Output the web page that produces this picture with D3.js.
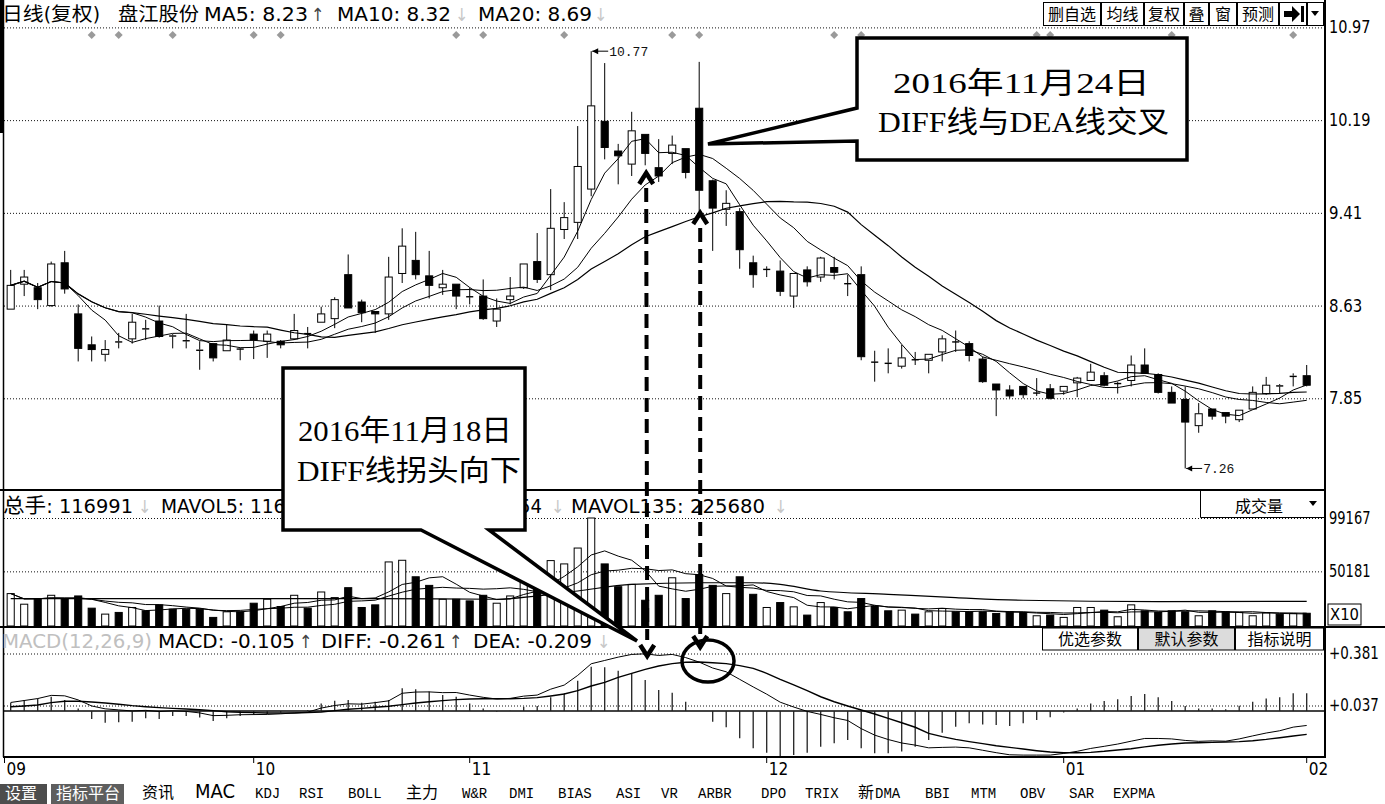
<!DOCTYPE html>
<html><head><meta charset="utf-8"><title>盘江股份 日线</title>
<script src="https://cdn.jsdelivr.net/npm/d3@7/dist/d3.min.js"></script>
<style>
html,body{margin:0;padding:0;background:#fff;overflow:hidden}
svg{display:block}
</style></head><body>
<svg id="chart" width="1385" height="804" xmlns="http://www.w3.org/2000/svg"></svg>
<script>
// ---------------- DATA ----------------
const opens = [8.60,8.81,8.78,8.63,8.99,8.56,8.30,8.22,8.33,8.35,
 8.44,8.50,8.38,8.34,8.26,8.31,8.25,8.27,8.39,8.33,
 8.33,8.35,8.40,8.49,8.52,8.89,8.66,8.58,8.56,8.90,
 9.01,8.88,8.78,8.81,8.71,8.71,8.50,8.68,8.78,9.00,
 8.89,9.27,9.33,9.61,10.18,9.93,9.82,10.07,9.79,9.91,
 9.95,10.29,9.68,9.44,9.42,8.99,8.94,8.92,8.71,8.93,
 8.87,8.95,8.82,8.89,8.16,8.15,8.12,8.18,8.17,8.24,
 8.33,8.31,8.18,7.97,7.92,7.95,7.90,7.93,7.91,7.98,
 8.00,8.04,7.98,8.00,8.13,8.05,7.90,7.84,7.62,7.76,
 7.73,7.67,7.76,7.89,7.96,8.03,8.04];
const highs = [8.93,8.93,8.82,9.00,9.09,8.64,8.37,8.34,8.40,8.56,
 8.51,8.63,8.39,8.56,8.33,8.31,8.47,8.27,8.42,8.42,
 8.34,8.56,8.45,8.62,8.70,9.06,8.68,8.58,9.04,9.28,
 9.25,9.09,8.93,8.81,8.78,8.85,8.69,8.87,8.98,9.24,
 9.61,9.50,10.14,10.77,10.67,9.99,10.26,10.07,10.03,10.06,
 9.95,10.68,9.69,9.60,9.45,9.05,8.96,9.01,8.90,8.96,
 9.04,9.04,8.89,8.96,8.25,8.27,8.30,8.24,8.22,8.38,
 8.42,8.33,8.20,7.97,7.96,7.95,8.02,7.97,7.95,8.03,
 8.14,8.07,7.99,8.21,8.27,8.06,7.95,7.95,7.81,7.76,
 7.73,7.75,7.95,8.03,7.97,8.06,8.13];
const lows = [8.60,8.71,8.60,8.62,8.73,8.16,8.16,8.16,8.27,8.31,
 8.34,8.36,8.27,8.27,8.09,8.16,8.25,8.17,8.18,8.19,
 8.27,8.34,8.27,8.49,8.44,8.61,8.49,8.40,8.51,8.82,
 8.85,8.69,8.72,8.60,8.64,8.51,8.45,8.64,8.77,8.82,
 8.76,9.19,9.19,9.55,9.86,9.65,9.72,9.81,9.67,9.82,
 9.70,9.41,9.09,9.30,8.94,8.78,8.87,8.71,8.61,8.79,
 8.83,8.85,8.71,8.17,7.99,8.06,8.10,8.13,8.06,8.16,
 8.24,8.16,7.98,7.70,7.85,7.85,7.87,7.84,7.88,7.86,
 8.00,7.95,7.89,7.95,8.06,7.89,7.81,7.26,7.56,7.67,
 7.64,7.65,7.76,7.88,7.89,7.95,7.95];
const closes = [8.80,8.87,8.68,8.98,8.77,8.27,8.26,8.26,8.32,8.49,
 8.43,8.37,8.37,8.33,8.25,8.19,8.34,8.27,8.34,8.39,
 8.30,8.42,8.40,8.56,8.68,8.61,8.57,8.56,8.87,9.13,
 8.89,8.80,8.81,8.71,8.70,8.52,8.60,8.71,8.98,8.85,
 9.28,9.37,9.80,10.31,9.96,9.89,10.10,9.91,9.72,9.98,
 9.75,9.60,9.45,9.49,9.10,8.89,8.94,8.75,8.90,8.83,
 9.03,8.91,8.82,8.20,8.16,8.15,8.19,8.18,8.22,8.35,
 8.33,8.21,7.99,7.92,7.87,7.88,7.90,7.85,7.95,8.02,
 8.07,7.96,7.98,8.13,8.06,7.90,7.81,7.65,7.72,7.70,
 7.70,7.75,7.90,7.96,7.95,8.04,7.96];
// volume in axis units (x10 hands)
const volumes = [29750,20016,25200,28204,25200,27590,16376,10918,12460,17000,
 13950,19410,15467,15467,15467,7900,13040,13040,20925,24565,
 17900,28204,16376,31230,26080,35190,17000,19410,58830,60350,
 45190,37300,24565,24565,23050,28204,20925,27590,44890,38210,
 60050,57010,71580,99167,57010,36090,38210,23650,28204,44290,
 25200,47310,37300,29750,45190,29110,17000,21530,17590,10008,
 21530,17000,13040,25200,17900,13950,14557,10918,13040,16073,
 13040,13040,13040,11525,13040,12434,9400,10008,7885,17000,
 17000,14557,8490,19410,13950,12434,13950,13040,9400,13950,
 13040,12434,9400,12000,10918,11500,11699];
// long volume average line, read at selected candles
const mavolLongIdx = [0,27,36,39,42,46,51,55,57,60,65,70,75,85,96];
const mavolLongVals = [25200,25200,24565,27590,32140,38210,39730,39730,38210,32140,29110,26080,23650,22434,22568];
const diffVals = [0.057,0.070,0.083,0.104,0.101,0.074,0.034,0.015,0.008,0.001,
 0.005,-0.003,0.002,-0.002,-0.012,-0.030,-0.028,-0.024,-0.023,-0.022,
 -0.018,-0.012,-0.007,0.020,0.037,0.048,0.046,0.056,0.068,0.118,
 0.126,0.127,0.122,0.123,0.106,0.091,0.080,0.084,0.099,0.106,
 0.145,0.172,0.236,0.313,0.335,0.357,0.375,0.379,0.368,0.375,
 0.354,0.324,0.285,0.260,0.210,0.160,0.112,0.059,0.027,-0.002,
 -0.022,-0.044,-0.062,-0.116,-0.159,-0.188,-0.211,-0.225,-0.243,-0.240,
 -0.238,-0.243,-0.259,-0.275,-0.289,-0.291,-0.291,-0.291,-0.280,-0.266,
 -0.247,-0.233,-0.218,-0.199,-0.181,-0.181,-0.184,-0.194,-0.200,-0.197,
 -0.199,-0.184,-0.164,-0.145,-0.130,-0.106,-0.095];
const deaVals = [0.029,0.034,0.040,0.056,0.065,0.065,0.060,0.054,0.045,0.036,
 0.029,0.023,0.018,0.014,0.009,0.003,-0.004,-0.008,-0.010,-0.013,
 -0.013,-0.013,-0.010,-0.006,0.003,0.012,0.018,0.025,0.032,0.043,
 0.054,0.062,0.069,0.076,0.080,0.082,0.082,0.082,0.084,0.089,
 0.100,0.113,0.135,0.166,0.190,0.223,0.250,0.276,0.298,0.314,
 0.323,0.325,0.320,0.314,0.301,0.283,0.250,0.210,0.173,0.135,
 0.095,0.062,0.034,0.007,-0.019,-0.048,-0.077,-0.107,-0.147,-0.169,
 -0.187,-0.202,-0.215,-0.229,-0.240,-0.251,-0.262,-0.271,-0.275,-0.275,
 -0.273,-0.266,-0.257,-0.249,-0.237,-0.226,-0.218,-0.211,-0.209,-0.207,
 -0.204,-0.202,-0.196,-0.187,-0.176,-0.165,-0.154];
const macdVals = [0.056,0.073,0.084,0.095,0.073,0.018,-0.052,-0.077,-0.074,-0.070,
 -0.048,-0.052,-0.032,-0.032,-0.043,-0.065,-0.048,-0.032,-0.026,-0.019,
 -0.010,0.001,0.007,0.051,0.069,0.073,0.056,0.062,0.073,0.151,
 0.144,0.129,0.107,0.095,0.051,0.018,-0.004,0.003,0.029,0.034,
 0.091,0.118,0.201,0.294,0.290,0.267,0.250,0.206,0.140,0.122,
 0.062,0.001,-0.070,-0.107,-0.180,-0.246,-0.275,-0.301,-0.290,-0.275,
 -0.235,-0.213,-0.191,-0.246,-0.279,-0.279,-0.268,-0.235,-0.191,-0.143,
 -0.103,-0.081,-0.088,-0.092,-0.099,-0.081,-0.059,-0.041,-0.010,0.018,
 0.051,0.067,0.078,0.100,0.113,0.091,0.067,0.034,0.018,0.018,
 0.012,0.036,0.062,0.084,0.091,0.118,0.118];
const priceTicks = [10.97,10.19,9.41,8.63,7.85];
const volTicks = [99167,50181];
const macdTicks = [0.381,0.037];
const monthLabels = ["09","10","11","12","01","02"];
const monthIdx = [0,18,34,56,78,96];
const infoMarkIdx = [6,8,12,18,20,33,35,41,49,51,61,63,76,77,86,95];
const highMark = {i:43, v:10.77, label:"10.77"};
const lowMark = {i:87, v:7.26, label:"7.26"};
const arrowAIdx = 47, arrowBIdx = 51;

// ---------------- FONTS ----------------
const SANS = "'DejaVu Sans Condensed','Noto Sans CJK SC',sans-serif";
const CJK = "'Noto Sans CJK SC',sans-serif";
const NARROW = "'Liberation Sans Narrow','DejaVu Sans Condensed',sans-serif";
const MONO = "'Liberation Mono','DejaVu Sans Mono',monospace";
const SERIF = "'Liberation Serif','Noto Sans CJK SC',serif";

const svg = d3.select('#chart');
const n = closes.length;
const LEFT = 3, RIGHT = 1325;

const x = d3.scaleBand().domain(d3.range(n)).range([3.95, 3.95 + 13.5 * n])
  .paddingInner(0.4).paddingOuter(0.2);
const bw = x.bandwidth();
const cx = i => x(i) + bw / 2;
const yP = d3.scaleLinear().domain([7.85, 10.97]).range([398.3, 27.4]);
const yV = d3.scaleLinear().domain([0, 99167]).range([626, 518]);
const yM = d3.scaleLinear().domain([0, 0.381]).range([711.1, 653.5]);

function addText(parent, px, py, s, o = {}) {
  const t = parent.append('text').attr('x', px).attr('y', py).text(s)
    .attr('font-family', o.ff || SANS).attr('font-size', o.fs || 20).attr('fill', o.fill || '#000');
  if (o.anchor) t.attr('text-anchor', o.anchor);
  if (o.len) t.attr('textLength', o.len).attr('lengthAdjust', 'spacingAndGlyphs');
  if (o.fw) t.attr('font-weight', o.fw);
  return t;
}
const isUp = i => closes[i] > opens[i] || (closes[i] === opens[i] && (i === 0 || closes[i] >= closes[i - 1]));
const movingAvg = (arr, p) => arr.map((_, i) => d3.mean(arr.slice(Math.max(0, i - p + 1), i + 1)));

// ---------------- GRIDLINES ----------------
function grid(scale, ticks) {
  svg.append('g').attr('transform', `translate(${RIGHT},0)`)
    .call(d3.axisLeft(scale).tickValues(ticks).tickSize(RIGHT - LEFT).tickFormat(''))
    .call(g => g.select('.domain').remove())
    .call(g => g.selectAll('line').attr('stroke', '#111').attr('stroke-dasharray', '1,2'));
}
grid(yP, priceTicks);
grid(yV, volTicks);
grid(yM, macdTicks);

// ---------------- CANDLES ----------------
const candles = d3.range(n).map(i => ({ i, o: opens[i], h: highs[i], l: lows[i], c: closes[i], up: isUp(i) }));
const cg = svg.append('g').attr('class', 'candles');
const cs = cg.selectAll('g').data(candles).join('g');
cs.append('line').attr('x1', d => cx(d.i)).attr('x2', d => cx(d.i))
  .attr('y1', d => yP(d.h)).attr('y2', d => yP(Math.max(d.o, d.c))).attr('stroke', '#000');
cs.append('line').attr('x1', d => cx(d.i)).attr('x2', d => cx(d.i))
  .attr('y1', d => yP(Math.min(d.o, d.c))).attr('y2', d => yP(d.l)).attr('stroke', '#000');
cs.append('rect')
  .attr('x', d => x(d.i) + 0.5).attr('width', bw - 1)
  .attr('y', d => yP(Math.max(d.o, d.c)))
  .attr('height', d => Math.max(1.4, yP(Math.min(d.o, d.c)) - yP(Math.max(d.o, d.c))))
  .attr('fill', d => (d.up && Math.abs(d.o - d.c) > 0.015) ? '#fff' : '#000')
  .attr('stroke', d => (Math.abs(d.o - d.c) > 0.015) ? '#000' : 'none')
  .attr('stroke-width', 1);

// MA lines
const ma5 = movingAvg(closes, 5), ma10 = movingAvg(closes, 10), ma20 = movingAvg(closes, 20);
const maLine = d3.line().x((d, i) => cx(i)).y(d => yP(d));
[[ma5, 1], [ma10, 1], [ma20, 1.2]].forEach(([arr, w]) => {
  svg.append('path').attr('d', maLine(arr)).attr('fill', 'none').attr('stroke', '#000').attr('stroke-width', w);
});

// ---------------- VOLUME ----------------
const vg = svg.append('g');
vg.selectAll('rect').data(volumes).join('rect')
  .attr('x', (d, i) => x(i) + 0.5).attr('width', bw - 1)
  .attr('y', d => yV(d)).attr('height', d => yV(0) - yV(d))
  .attr('fill', (d, i) => isUp(i) ? '#fff' : '#000').attr('stroke', '#000').attr('stroke-width', 1);
const vLine = d3.line().x((d, i) => cx(i)).y(d => yV(d));
svg.append('path').attr('d', vLine(movingAvg(volumes, 5))).attr('fill', 'none').attr('stroke', '#000').attr('stroke-width', 1);
svg.append('path').attr('d', vLine(movingAvg(volumes, 10))).attr('fill', 'none').attr('stroke', '#000').attr('stroke-width', 1);
svg.append('path').attr('d', d3.line().curve(d3.curveMonotoneX).x((d, k) => cx(mavolLongIdx[k])).y(d => yV(d))(mavolLongVals))
  .attr('fill', 'none').attr('stroke', '#000').attr('stroke-width', 1.2);

// ---------------- MACD ----------------
svg.append('line').attr('x1', LEFT).attr('x2', RIGHT).attr('y1', yM(0)).attr('y2', yM(0))
  .attr('stroke', '#444').attr('stroke-width', 2);
svg.append('g').selectAll('line').data(macdVals).join('line')
  .attr('x1', (d, i) => cx(i)).attr('x2', (d, i) => cx(i))
  .attr('y1', yM(0)).attr('y2', d => yM(d))
  .attr('stroke', '#222').attr('stroke-width', 1.3);
const mLine = d3.line().x((d, i) => cx(i)).y(d => yM(d));
svg.append('path').attr('d', mLine(diffVals)).attr('fill', 'none').attr('stroke', '#000').attr('stroke-width', 1);
svg.append('path').attr('d', mLine(deaVals)).attr('fill', 'none').attr('stroke', '#000').attr('stroke-width', 1.4);

// ---------------- FRAME ----------------
const fr = svg.append('g').attr('stroke', '#000');
fr.append('rect').attr('x', 0).attr('y', 0).attr('width', 4).attr('height', 133).attr('fill', '#000').attr('stroke', 'none');
fr.append('line').attr('x1', 3.5).attr('x2', 3.5).attr('y1', 0).attr('y2', 757).attr('stroke-width', 1.5);
fr.append('line').attr('x1', RIGHT).attr('x2', RIGHT).attr('y1', 0).attr('y2', 758).attr('stroke-width', 2);
fr.append('line').attr('x1', 0).attr('x2', RIGHT).attr('y1', 490).attr('y2', 490).attr('stroke-width', 2);
fr.append('line').attr('x1', 0).attr('x2', 1385).attr('y1', 627).attr('y2', 627).attr('stroke-width', 2);
fr.append('line').attr('x1', LEFT).attr('x2', RIGHT).attr('y1', 757).attr('y2', 757).attr('stroke-width', 2);

// right axes labels
function rlabels(scale, ticks, fmt) {
  const a = svg.append('g').attr('transform', `translate(${RIGHT},0)`)
    .call(d3.axisRight(scale).tickValues(ticks).tickSize(0).tickPadding(4).tickFormat(fmt));
  a.select('.domain').remove();
  a.selectAll('text').attr('font-family', NARROW).attr('font-size', 17).attr('fill', '#000')
    .attr('textLength', d => fmt(d).length * 8.3).attr('lengthAdjust', 'spacingAndGlyphs');
}
rlabels(yP, priceTicks, d3.format('.2f'));
rlabels(yV, volTicks, d3.format('d'));
rlabels(yM, macdTicks, d => '+' + d3.format('.3f')(d));
svg.append('rect').attr('x', 1328).attr('y', 604).attr('width', 33).attr('height', 21).attr('fill', '#fff').attr('stroke', '#000');
addText(svg, 1330, 620, 'X10', { ff: NARROW, fs: 16, len: 29 });

// x axis
const xa = svg.append('g').attr('transform', 'translate(0,757)')
  .call(d3.axisBottom(x).tickValues(monthIdx).tickSize(6).tickFormat((d, k) => monthLabels[k]));
xa.select('.domain').remove();
xa.selectAll('line').attr('stroke', '#000');
xa.selectAll('text').attr('text-anchor', 'start').attr('dx', 2).attr('y', 6).attr('font-family', NARROW).attr('font-size', 17).attr('fill', '#000');
xa.selectAll('.tick').filter(d => d === 0).attr('transform', 'translate(4.5,0)');

// ---------------- HEADERS ----------------
const hd = svg.append('g');
addText(hd, 2, 21, '日线(复权)', { len: 98, fs: 19 });
addText(hd, 118, 21, '盘江股份', { len: 81, fs: 19 });
addText(hd, 204, 21, 'MA5: 8.23', { len: 104 });
addText(hd, 311, 21, '↑', { fill: '#444', fs: 18 });
addText(hd, 337, 21, 'MA10: 8.32', { len: 114 });
addText(hd, 455, 21, '↓', { fill: '#c8c8c8', fs: 18 });
addText(hd, 478, 21, 'MA20: 8.69', { len: 114 });
addText(hd, 594, 21, '↓', { fill: '#c8c8c8', fs: 18 });

addText(hd, 3, 513, '总手: 116991', { len: 130 });
addText(hd, 138, 513, '↓', { fill: '#c8c8c8', fs: 18 });
addText(hd, 161, 513, 'MAVOL5: 116360', { len: 160 });
addText(hd, 542, 513, 'MAVOL10: 125654', { anchor: 'end' });
addText(hd, 551, 513, '↓', { fill: '#c8c8c8', fs: 18 });
addText(hd, 571, 513, 'MAVOL135: 225680', { len: 194 });
addText(hd, 774, 513, '↓', { fill: '#c8c8c8', fs: 18 });

addText(hd, 2, 648, 'MACD(12,26,9)', { len: 150, fill: '#c0c0c0' });
addText(hd, 158, 648, 'MACD: -0.105', { len: 137 });
addText(hd, 299, 648, '↑', { fill: '#444', fs: 18 });
addText(hd, 321, 648, 'DIFF: -0.261', { len: 125 });
addText(hd, 449, 648, '↑', { fill: '#444', fs: 18 });
addText(hd, 473, 648, 'DEA: -0.209', { len: 119 });
addText(hd, 597, 648, '↓', { fill: '#c8c8c8', fs: 18 });

// top-right buttons
const btnEdges = [1043, 1101, 1144, 1184, 1209, 1237, 1279, 1307, 1324];
const btnLabels = ['删自选', '均线', '复权', '叠', '窗', '预测', '', ''];
const bt = svg.append('g');
btnLabels.forEach((s, k) => {
  bt.append('rect').attr('x', btnEdges[k] + 0.5).attr('y', 2.5).attr('width', btnEdges[k + 1] - btnEdges[k] - 1).attr('height', 23)
    .attr('fill', '#fff').attr('stroke', '#000').attr('stroke-width', 1);
  if (s) addText(bt, (btnEdges[k] + btnEdges[k + 1]) / 2, 20, s, { ff: CJK, fs: 16, anchor: 'middle' });
});
bt.append('path').attr('d', 'M1284,11 h8 v-5 l8,8 l-8,8 v-5 h-8 z M1301,6 h3 v16 h-3 z').attr('fill', '#000');
bt.append('path').attr('d', 'M1311,11 h8 l-4,5 z').attr('fill', '#000');

// volume dropdown
svg.append('path').attr('d', 'M1200.5,491 V517.5 H1324').attr('fill', 'none').attr('stroke', '#000');
addText(svg, 1235, 512, '成交量', { ff: CJK, fs: 16 });
svg.append('path').attr('d', 'M1309,501 h8 l-4,5 z').attr('fill', '#000');

// MACD buttons
const mbEdges = [1042, 1138, 1235, 1324];
['优选参数', '默认参数', '指标说明'].forEach((s, k) => {
  svg.append('rect').attr('x', mbEdges[k] + 0.5).attr('y', 628).attr('width', mbEdges[k + 1] - mbEdges[k] - 1).attr('height', 22)
    .attr('fill', k === 1 ? '#dcdcdc' : '#fff').attr('stroke', '#000');
  addText(svg, (mbEdges[k] + mbEdges[k + 1]) / 2, 645, s, { ff: CJK, fs: 16, anchor: 'middle' });
});

// bottom tab bar
svg.append('rect').attr('x', 0).attr('y', 784).attr('width', 47).attr('height', 20).attr('fill', '#4d4d4d');
svg.append('rect').attr('x', 51).attr('y', 784).attr('width', 73).attr('height', 20).attr('fill', '#5e5e5e');
addText(svg, 5, 799, '设置', { ff: CJK, fs: 16, fill: '#fff' });
addText(svg, 56, 799, '指标平台', { ff: CJK, fs: 16, fill: '#fff' });
const tabs = [['资讯', 142, CJK, 16], ['MAC', 195, SANS, 20], ['KDJ', 255, MONO, 14], ['RSI', 299, MONO, 14], ['BOLL', 348, MONO, 14],
  ['主力', 406, CJK, 16], ['W&R', 462, MONO, 14], ['DMI', 509, MONO, 14], ['BIAS', 558, MONO, 14], ['ASI', 616, MONO, 14],
  ['VR', 661, MONO, 14], ['ARBR', 698, MONO, 14], ['DPO', 761, MONO, 14], ['TRIX', 805, MONO, 14], ['新', 858, CJK, 16],
  ['DMA', 875, MONO, 14], ['BBI', 925, MONO, 14], ['MTM', 971, MONO, 14], ['OBV', 1020, MONO, 14], ['SAR', 1069, MONO, 14], ['EXPMA', 1113, MONO, 14]];
tabs.forEach(([s, tx, ff, fs]) => addText(svg, tx, 798, s, { ff, fs }));

// info diamonds
svg.append('g').selectAll('path').data(infoMarkIdx).join('path')
  .attr('d', d => `M${cx(d)},31 l4,4 l-4,4 l-4,-4 z`).attr('fill', '#9a9a9a');

// high / low markers
function priceMark(m) {
  const px = cx(m.i), py = yP(m.v);
  svg.append('line').attr('x1', px + 1).attr('x2', px + 17).attr('y1', py).attr('y2', py).attr('stroke', '#000');
  svg.append('path').attr('d', `M${px + 1},${py} l6,-3 v6 z`).attr('fill', '#000');
  addText(svg, px + 18, py + 5, m.label, { ff: MONO, fs: 13, fill: '#111' });
}
priceMark(highMark);
priceMark(lowMark);

// ---------------- ANNOTATIONS ----------------
const an = svg.append('g');
const ax = cx(arrowAIdx), bx = cx(arrowBIdx);
an.append('line').attr('x1', ax + 1).attr('x2', ax + 2).attr('y1', 188).attr('y2', 640)
  .attr('stroke', '#000').attr('stroke-width', 4).attr('stroke-dasharray', '14,7');
an.append('line').attr('x1', bx + 1).attr('x2', bx + 1).attr('y1', 228).attr('y2', 634)
  .attr('stroke', '#000').attr('stroke-width', 4).attr('stroke-dasharray', '14,7');
const chev = (px, py, dir) => `M${px - 7},${py + dir * 11} L${px},${py} L${px + 7},${py + dir * 11}`;
an.append('path').attr('d', chev(ax + 1, 173, 1)).attr('fill', 'none').attr('stroke', '#000').attr('stroke-width', 4.5);
an.append('path').attr('d', chev(bx + 1, 213, 1)).attr('fill', 'none').attr('stroke', '#000').attr('stroke-width', 4.5);
an.append('path').attr('d', chev(ax + 2, 656, -1)).attr('fill', 'none').attr('stroke', '#000').attr('stroke-width', 4.5);
an.append('path').attr('d', chev(bx + 1, 647, -1)).attr('fill', 'none').attr('stroke', '#000').attr('stroke-width', 4.5);
an.append('ellipse').attr('cx', 708).attr('cy', 661).attr('rx', 26).attr('ry', 21)
  .attr('fill', 'none').attr('stroke', '#000').attr('stroke-width', 3.5);

an.append('path').attr('d', 'M857,38 H1187 V160 H857 V141 L708,144 L857,108 Z')
  .attr('fill', '#fff').attr('stroke', '#000').attr('stroke-width', 3.5);
addText(an, 893, 93, '2016年11月24日', { ff: SERIF, fs: 30, len: 257 });
addText(an, 878, 132, 'DIFF线与DEA线交叉', { ff: SERIF, fs: 30, len: 291 });

an.append('path').attr('d', 'M283,368 H525 V530 H489 L637,641 L421,530 H283 Z')
  .attr('fill', '#fff').attr('stroke', '#000').attr('stroke-width', 3.5);
addText(an, 298, 441, '2016年11月18日', { ff: SERIF, fs: 29, len: 214 });
addText(an, 297, 481, 'DIFF线拐头向下', { ff: SERIF, fs: 29, len: 224 });
</script>
</body></html>
